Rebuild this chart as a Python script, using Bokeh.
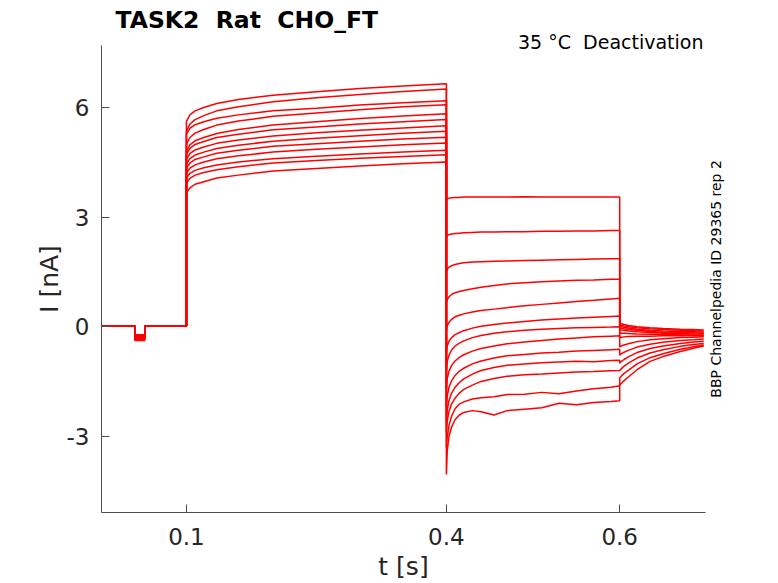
import math
from bokeh.plotting import figure
from bokeh.models import Range1d, FixedTicker, Title, LinearAxis
from bokeh.embed import file_html
from bokeh.resources import INLINE

# ---- data ----
N_TRACES = 13

HOLD_T = [0.0, 0.0404, 0.0404, 0.0519, 0.0519, 0.1]
HOLD_LEVEL = 0.02
DIP_DEPTH = [-0.25, -0.30, -0.35, -0.22, -0.28, -0.33, -0.38, -0.26, -0.31, -0.36, -0.24, -0.29, -0.34]

ACT_T = [0.1, 0.104, 0.11, 0.12, 0.135, 0.16, 0.2, 0.25, 0.3, 0.35, 0.4]
ACT = [
    [5.62, 5.80, 5.91, 6.00, 6.11, 6.22, 6.34, 6.43, 6.52, 6.59, 6.65],
    [5.35, 5.55, 5.67, 5.78, 5.91, 6.02, 6.16, 6.27, 6.36, 6.44, 6.51],
    [5.27, 5.43, 5.53, 5.61, 5.71, 5.80, 5.91, 5.98, 6.07, 6.13, 6.19],
    [5.00, 5.18, 5.30, 5.40, 5.52, 5.63, 5.76, 5.85, 5.94, 6.02, 6.08],
    [4.80, 4.98, 5.09, 5.18, 5.29, 5.40, 5.52, 5.61, 5.70, 5.77, 5.83],
    [4.72, 4.88, 4.99, 5.07, 5.18, 5.27, 5.39, 5.47, 5.55, 5.61, 5.67],
    [4.58, 4.74, 4.84, 4.92, 5.02, 5.11, 5.22, 5.31, 5.38, 5.44, 5.50],
    [4.45, 4.60, 4.70, 4.78, 4.88, 4.97, 5.08, 5.16, 5.23, 5.30, 5.35],
    [4.34, 4.48, 4.58, 4.65, 4.75, 4.83, 4.94, 5.01, 5.08, 5.14, 5.19],
    [4.20, 4.34, 4.43, 4.51, 4.60, 4.68, 4.78, 4.86, 4.92, 4.98, 5.03],
    [4.07, 4.20, 4.28, 4.35, 4.43, 4.51, 4.60, 4.67, 4.73, 4.78, 4.83],
    [3.93, 4.06, 4.15, 4.22, 4.30, 4.38, 4.48, 4.55, 4.61, 4.66, 4.71],
    [3.66, 3.80, 3.90, 3.97, 4.07, 4.15, 4.26, 4.33, 4.40, 4.46, 4.51],
]

TAIL_T = [0.4, 0.401, 0.403, 0.406, 0.41, 0.415, 0.42, 0.43, 0.44, 0.455,
          0.47, 0.49, 0.51, 0.53, 0.55, 0.57, 0.59, 0.6]
TAIL = [
    [3.48, 3.50, 3.52, 3.53, 3.54, 3.54, 3.55, 3.55, 3.55, 3.55, 3.55, 3.56, 3.55, 3.55, 3.55, 3.55, 3.55, 3.55],
    [2.45, 2.49, 2.52, 2.54, 2.55, 2.56, 2.57, 2.58, 2.59, 2.59, 2.60, 2.60, 2.61, 2.61, 2.62, 2.62, 2.63, 2.63],
    [1.50, 1.57, 1.63, 1.67, 1.70, 1.73, 1.75, 1.77, 1.78, 1.79, 1.80, 1.81, 1.82, 1.83, 1.84, 1.85, 1.86, 1.86],
    [0.65, 0.74, 0.82, 0.88, 0.93, 0.96, 0.99, 1.04, 1.08, 1.13, 1.17, 1.20, 1.23, 1.25, 1.27, 1.28, 1.30, 1.30],
    [-0.10, 0.02, 0.12, 0.20, 0.27, 0.31, 0.35, 0.40, 0.44, 0.48, 0.52, 0.57, 0.61, 0.65, 0.69, 0.72, 0.76, 0.78],
    [-0.70, -0.52, -0.40, -0.30, -0.22, -0.16, -0.11, -0.04, 0.01, 0.06, 0.10, 0.14, 0.18, 0.21, 0.24, 0.26, 0.28, 0.29],
    [-1.20, -0.95, -0.78, -0.64, -0.53, -0.45, -0.39, -0.30, -0.24, -0.18, -0.14, -0.10, -0.07, -0.05, -0.03, -0.02, -0.01, 0.00],
    [-1.70, -1.42, -1.22, -1.06, -0.94, -0.84, -0.77, -0.67, -0.60, -0.53, -0.47, -0.42, -0.38, -0.34, -0.31, -0.28, -0.26, -0.25],
    [-2.20, -1.90, -1.66, -1.48, -1.34, -1.22, -1.14, -1.02, -0.94, -0.86, -0.80, -0.76, -0.72, -0.70, -0.67, -0.65, -0.63, -0.62],
    [-2.60, -2.28, -2.02, -1.82, -1.66, -1.53, -1.43, -1.30, -1.20, -1.12, -1.06, -1.02, -0.99, -0.97, -0.95, -0.96, -0.93, -0.92],
    [-2.90, -2.58, -2.32, -2.12, -1.96, -1.82, -1.72, -1.60, -1.50, -1.42, -1.36, -1.32, -1.30, -1.27, -1.24, -1.23, -1.21, -1.20],
    [-3.30, -3.03, -2.70, -2.45, -2.25, -2.12, -2.06, -1.98, -1.95, -1.92, -1.86, -1.85, -1.80, -1.84, -1.76, -1.70, -1.66, -1.62],
    [-4.05, -3.40, -3.00, -2.75, -2.55, -2.42, -2.35, -2.30, -2.33, -2.42, -2.30, -2.26, -2.22, -2.10, -2.14, -2.08, -2.05, -2.03],
]

FIN_T = [0.6, 0.602, 0.605, 0.61, 0.62, 0.635, 0.65, 0.67, 0.685, 0.697]
FIN = [
    [0.10, 0.08, 0.06, 0.03, 0.00, -0.03, -0.05, -0.07, -0.08, -0.09],
    [0.06, 0.04, 0.02, 0.00, -0.03, -0.06, -0.08, -0.10, -0.11, -0.12],
    [0.02, 0.00, -0.02, -0.04, -0.07, -0.10, -0.12, -0.13, -0.14, -0.15],
    [-0.03, -0.04, -0.06, -0.08, -0.10, -0.13, -0.15, -0.16, -0.17, -0.18],
    [-0.08, -0.09, -0.10, -0.12, -0.14, -0.16, -0.18, -0.19, -0.20, -0.20],
    [-0.18, -0.18, -0.18, -0.19, -0.20, -0.21, -0.22, -0.22, -0.23, -0.23],
    [-0.30, -0.29, -0.28, -0.27, -0.26, -0.26, -0.25, -0.25, -0.25, -0.25],
    [-0.55, -0.53, -0.50, -0.47, -0.41, -0.36, -0.33, -0.30, -0.29, -0.28],
    [-0.78, -0.74, -0.70, -0.65, -0.56, -0.48, -0.43, -0.38, -0.36, -0.34],
    [-1.00, -0.95, -0.90, -0.83, -0.71, -0.60, -0.53, -0.46, -0.42, -0.40],
    [-1.20, -1.15, -1.08, -1.00, -0.86, -0.72, -0.63, -0.54, -0.49, -0.46],
    [-1.40, -1.35, -1.28, -1.20, -1.02, -0.85, -0.74, -0.62, -0.55, -0.50],
    [-1.60, -1.55, -1.48, -1.38, -1.18, -0.95, -0.82, -0.68, -0.59, -0.53],
]

X_TICKS = [0.1, 0.4, 0.6]
Y_TICKS = [-3, 0, 3, 6]
Y_TICK_LABELS = {-3: "-3", 0: "0", 3: "3", 6: "6"}

TITLE = "TASK2 \u00a0Rat \u00a0CHO_FT"
SUBTITLE = "35 °C \u00a0Deactivation"
SIDE_NOTE = "BBP Channelpedia ID 29365 rep 2"

# ---- build traces ----
xs, ys = [], []
for i in range(N_TRACES):
    hold_v = [HOLD_LEVEL, HOLD_LEVEL, DIP_DEPTH[i], DIP_DEPTH[i], HOLD_LEVEL, HOLD_LEVEL]
    xs.append(HOLD_T + ACT_T + TAIL_T + FIN_T)
    ys.append(hold_v + ACT[i] + TAIL[i] + FIN[i])

FONT = "DejaVu Sans"
DARK = "#262626"

Y_LO, Y_HI = -5.09, 7.70
FRAME_H = 583 - 44 - 71

p = figure(width=778, height=583, output_backend="svg", toolbar_location=None,
           x_range=Range1d(0.002, 0.699), y_range=Range1d(Y_LO, Y_HI),
           min_border_left=101, min_border_right=73, min_border_top=44, min_border_bottom=71)
p.outline_line_color = None
p.grid.visible = False
p.background_fill_color = "white"
p.border_fill_color = "white"
p.title.text = ""

p.multi_line(xs, ys, line_color="#ff0000", line_width=1.5)

for ax in (p.xaxis[0], p.yaxis[0]):
    ax.axis_line_color = "#4d4d4d"
    ax.axis_line_width = 1
    ax.major_tick_line_color = "#4d4d4d"
    ax.major_tick_in = 8
    ax.major_tick_out = 0
    ax.minor_tick_line_color = None
    ax.major_label_text_font = FONT
    ax.major_label_text_font_size = "23px"
    ax.major_label_text_color = DARK
    ax.axis_label_text_font = FONT
    ax.axis_label_text_font_size = "25px"
    ax.axis_label_text_font_style = "normal"
    ax.axis_label_text_color = DARK

p.xaxis.ticker = FixedTicker(ticks=X_TICKS)
p.yaxis.ticker = FixedTicker(ticks=Y_TICKS)
p.yaxis.major_label_overrides = Y_TICK_LABELS
p.xaxis.axis_label = "t [s]"
p.yaxis.axis_label = "I [nA]"
p.xaxis.major_label_standoff = 15
p.yaxis.major_label_standoff = 12
p.xaxis.axis_label_standoff = 4
p.yaxis.axis_label_standoff = 0

# subtitle (closest to the frame) and title above it
sub = Title(text=SUBTITLE, align="right", offset=2, vertical_align="bottom", standoff=-15,
            text_font=FONT, text_font_size="19px", text_font_style="normal", text_color="black")
p.add_layout(sub, "above")
main = Title(text=TITLE, align="left", offset=14, vertical_align="bottom", standoff=5.5,
             text_font=FONT, text_font_size="23.5px", text_font_style="bold", text_color="black")
p.add_layout(main, "above")

# vertical side note: the single label of a bare right-hand axis, rotated to read upwards;
# its anchor is the start of the text, so it is placed half a text length below the middle
SIDE_FONT_PX = 14
side_len_px = 16.99 * SIDE_FONT_PX
side_y = (Y_LO + Y_HI) / 2 - (side_len_px / 2) * (Y_HI - Y_LO) / FRAME_H
side = LinearAxis(ticker=FixedTicker(ticks=[side_y]),
                  major_label_overrides={side_y: SIDE_NOTE},
                  axis_line_color=None, major_tick_line_color=None, minor_tick_line_color=None,
                  major_tick_in=0, major_tick_out=0, major_label_standoff=11,
                  major_label_orientation=math.pi / 2,
                  major_label_text_font=FONT, major_label_text_font_size=f"{SIDE_FONT_PX}px",
                  major_label_text_color="black")
p.add_layout(side, "right")

open("out.html", "w").write(file_html(p, INLINE))
